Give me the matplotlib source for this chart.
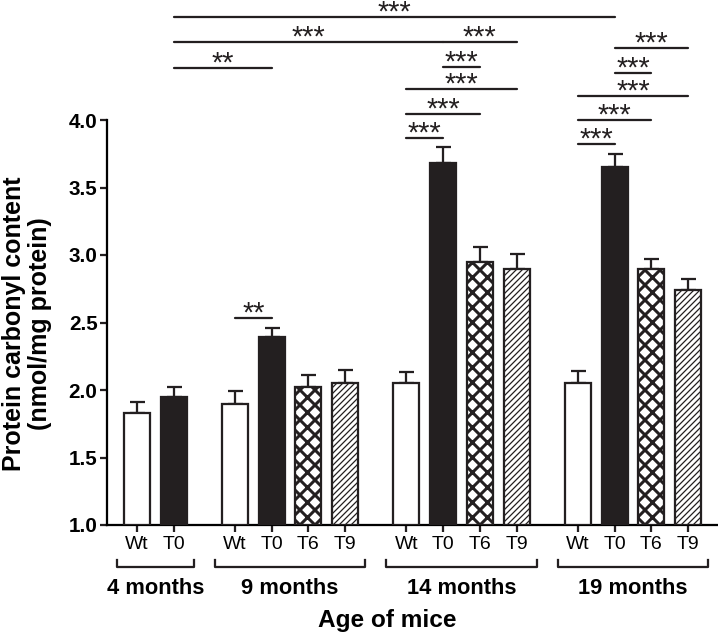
import numpy as np
import matplotlib
matplotlib.use('Agg')
import matplotlib.pyplot as plt
import matplotlib.transforms as mtransforms

plt.rcParams['font.family'] = ['Liberation Sans', 'DejaVu Sans']

# data
groups = ['4 months', '9 months', '14 months', '19 months']
group_members = [['Wt', 'T0'], ['Wt', 'T0', 'T6', 'T9'],
                 ['Wt', 'T0', 'T6', 'T9'], ['Wt', 'T0', 'T6', 'T9']]
means = [1.83, 1.95,
         1.90, 2.39, 2.02, 2.05,
         2.05, 3.68, 2.95, 2.90,
         2.05, 3.65, 2.90, 2.74]
errs = [0.08, 0.07,
        0.09, 0.07, 0.09, 0.10,
        0.08, 0.12, 0.11, 0.11,
        0.09, 0.10, 0.07, 0.08]

# significance brackets: bar index from, bar index to, height, label
sig_from = [1, 1, 1, 7, 7, 6, 6, 6, 11, 11, 10, 10, 10, 2]
sig_to = [11, 7, 3, 9, 8, 9, 8, 7, 13, 12, 13, 12, 11, 3]
sig_y = [4.763, 4.578, 4.385, 4.578, 4.393, 4.23, 4.044, 3.867,
         4.533, 4.348, 4.178, 4.0, 3.822, 2.533]
sig_txt = ['***', '***', '**', '***', '***', '***', '***', '***',
           '***', '***', '***', '***', '***', '**']

styles = {'Wt': dict(color='white', hatch=None),
          'T0': dict(color='#231f20', hatch=None),
          'T6': dict(color='white', hatch='xx'),
          'T9': dict(color='white', hatch='/////')}

DPI = 90
fig = plt.figure(figsize=(718 / DPI, 634 / DPI), dpi=DPI)
ax = fig.add_axes([107 / 718, 109 / 634, 610 / 718, 525 / 634])

# bar positions
gap = 1.67
xs = []
labels = []
start = 0.0
group_centers = []
group_spans = []
for members in group_members:
    pos = [start + i for i in range(len(members))]
    xs += pos
    labels += members
    group_centers.append(np.mean(pos))
    group_spans.append((pos[0], pos[-1]))
    start = pos[-1] + gap
xs = np.array(xs)

for x, m, e, lab in zip(xs, means, errs, labels):
    st = styles[lab]
    hlw = 2.4 if lab == 'T6' else 1.0
    with plt.rc_context({'hatch.linewidth': hlw}):
        b = ax.bar(x, m - 1.0, bottom=1.0, width=0.71, color=st['color'],
                   edgecolor='#231f20', linewidth=1.8, hatch=st['hatch'], zorder=3)
    for p in b.patches:
        if hasattr(p, 'set_hatch_linewidth'):
            p.set_hatch_linewidth(hlw)
    ax.errorbar(x, m, yerr=[[0], [e]], fmt='none', ecolor='#231f20',
                elinewidth=1.8, capsize=6, capthick=1.8, zorder=2)

# significance lines
for a, b_, y, t in zip(sig_from, sig_to, sig_y, sig_txt):
    ax.plot([xs[a], xs[b_]], [y, y], color='#231f20', lw=1.8,
            solid_capstyle='round', clip_on=False)
    ax.annotate(t, xy=((xs[a] + xs[b_]) / 2, y), xytext=(0, -3),
                textcoords='offset points', ha='center', va='baseline',
                fontsize=23, color='#231f20', annotation_clip=False)

ax.set_xlim(-0.817, 15.80)
ax.set_ylim(1.0, 1 + 525 / 135)
ax.set_yticks(np.arange(1.0, 4.01, 0.5))
ax.set_yticklabels(['%.1f' % v for v in np.arange(1.0, 4.01, 0.5)],
                   fontsize=16.5, fontweight='bold')
ax.set_xticks(xs)
ax.set_xticklabels(labels, fontsize=15.5)
ax.tick_params(axis='both', width=1.8, length=5.6, direction='out', color='#231f20')
ax.tick_params(axis='x', pad=3.5)
ax.tick_params(axis='y', pad=2)

for s in ['top', 'right']:
    ax.spines[s].set_visible(False)
ax.spines['left'].set_bounds(1.0, 4.0)
ax.spines['left'].set_linewidth(1.8)
ax.spines['bottom'].set_linewidth(1.8)

# group brackets below the axis
tr = mtransforms.blended_transform_factory(ax.transData, fig.transFigure)
yb = (634 - 567) / 634
yt = (634 - 560) / 634
for (x0, x1), c, name in zip(group_spans, group_centers, groups):
    ax.plot([x0 - 0.55, x0 - 0.55, x1 + 0.55, x1 + 0.55], [yt, yb, yb, yt],
            color='#231f20', lw=1.8, transform=tr, clip_on=False)
    ax.text(c, (634 - 588) / 634, name, transform=tr, ha='center', va='center',
            fontsize=17.5, fontweight='bold')

ax.set_ylabel('Protein carbonyl content\n(nmol/mg protein)', fontsize=20,
              fontweight='bold', linespacing=1.15, va='center')
ax.yaxis.set_label_coords(-80 / 610, (525 - 324) / 525)
ax.set_xlabel('Age of mice', fontsize=19.5, fontweight='bold', va='center')
ax.xaxis.set_label_coords((387.5 - 107) / 610, (525 - 620) / 525)

fig.savefig('out.png', dpi=DPI)
